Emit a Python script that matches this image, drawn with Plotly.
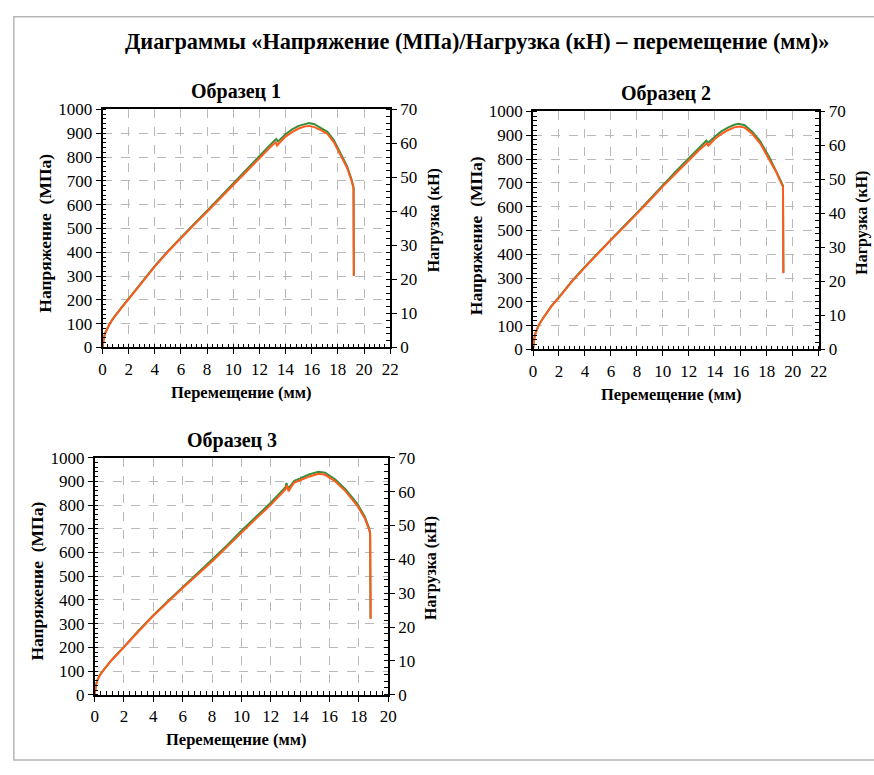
import plotly.graph_objects as go

# ---------------- data ----------------
# Sample 1 : orange = stress (MPa, left axis), green = load (kN, right axis)
s1_disp = [0, 0.04, 0.1, 0.2, 0.35, 0.55, 0.8, 1.1, 1.5, 2, 3, 4, 5, 6, 7, 8, 9, 10, 11, 12, 12.8,
           13.25, 13.35, 13.5, 14, 14.5, 15, 15.5, 15.8, 16.2, 16.7, 17.2, 17.7, 18.3, 18.7,
           19.05, 19.2, 19.22]
s1_stress = [0, 20, 40, 60, 80, 100, 120, 143, 170, 203, 272, 340, 402, 460, 515, 570, 627, 685,
             740, 795, 840, 862, 848, 858, 886, 905, 920, 929, 931, 926, 913, 897, 862, 800, 755,
             700, 668, 300]
s1_load_disp = [0, 0.04, 0.1, 0.2, 0.35, 0.55, 0.8, 1.1, 1.5, 2, 3, 4, 5, 6, 7, 8, 9, 10, 11, 12,
                12.8, 13.2, 13.3, 13.4, 13.55, 14, 14.5, 15, 15.5, 15.8, 16.2, 16.7, 17.2, 17.7,
                18.3, 18.7, 19.05, 19.2, 19.22]
s1_load = [0, 1.4, 2.8, 4.2, 5.6, 7.0, 8.47, 10.08, 12.04, 14.35, 19.25, 24.01, 28.35, 32.48,
           36.33, 40.25, 44.31, 48.44, 52.36, 56.28, 59.5, 61.04, 61.32, 60.62, 61.04, 62.72,
           64.12, 65.17, 65.8, 66.01, 65.66, 64.61, 63.42, 60.97, 56.56, 53.34, 49.42, 47.04, 21.14]

# Sample 2
s2_disp = [0, 0.04, 0.1, 0.2, 0.3, 0.45, 0.7, 1.0, 1.4, 2, 3, 4, 5, 6, 7, 8, 9, 10, 11, 12, 12.8,
           13.4, 13.5, 13.65, 14, 14.5, 15, 15.5, 15.9, 16.3, 16.9, 17.5, 18.2, 18.7, 19.1,
           19.25, 19.28]
s2_stress = [0, 25, 48, 70, 86, 103, 125, 150, 180, 218, 285, 345, 403, 460, 514, 569, 627, 685,
             740, 795, 838, 866, 856, 864, 884, 905, 921, 933, 937, 932, 905, 865, 800, 748, 700,
             683, 320]
s2_load_disp = [0, 0.04, 0.1, 0.2, 0.3, 0.45, 0.7, 1.0, 1.4, 2, 3, 4, 5, 6, 7, 8, 9, 10, 11, 12,
                12.8, 13.25, 13.35, 13.45, 13.6, 14, 14.5, 15, 15.5, 15.85, 16.3, 16.9, 17.5,
                18.2, 18.7, 19.1, 19.25, 19.28]
s2_load = [0, 1.75, 3.36, 4.9, 6.02, 7.21, 8.82, 10.57, 12.74, 15.4, 20.16, 24.36, 28.42, 32.48,
           36.26, 40.18, 44.31, 48.44, 52.36, 56.28, 59.36, 61.11, 61.39, 60.76, 61.18, 62.58,
           64.12, 65.24, 66.08, 66.36, 65.94, 63.98, 61.18, 56.56, 52.85, 49.42, 48.16, 22.54]

# Sample 3
s3_disp = [0, 0.04, 0.1, 0.2, 0.35, 0.55, 0.8, 1.1, 1.5, 2, 3, 4, 5, 6, 7, 8, 9, 10, 11, 12, 12.5,
           13.0, 13.1, 13.22, 13.4, 13.6, 14, 14.6, 15.25, 15.7, 16.4, 17.1, 17.9, 18.4, 18.7,
           18.77, 18.8]
s3_stress = [0, 22, 43, 63, 82, 100, 120, 142, 168, 200, 268, 333, 393, 450, 506, 562, 623, 685,
             743, 801, 833, 866, 884, 858, 878, 895, 905, 920, 932, 928, 900, 858, 797, 745, 697,
             678, 320]
s3_load_disp = [0, 0.04, 0.1, 0.2, 0.35, 0.55, 0.8, 1.1, 1.5, 2, 3, 4, 5, 6, 7, 8, 9, 10, 11, 12,
                12.5, 13.0, 13.07, 13.18, 13.4, 13.6, 14, 14.6, 15.25, 15.7, 16.4, 17.1, 17.9,
                18.4, 18.7, 18.77, 18.8]
s3_load = [0, 1.54, 3.01, 4.41, 5.74, 7.0, 8.47, 10.01, 11.9, 14.14, 18.97, 23.52, 27.72, 31.78,
           35.7, 39.69, 44.03, 48.44, 52.5, 56.7, 59.01, 61.32, 62.51, 60.9, 62.09, 63.21, 63.91,
           65.03, 65.87, 65.59, 63.56, 60.62, 56.35, 52.64, 49.14, 47.74, 22.54]

x_ranges = [[0, 22], [0, 22], [0, 20]]
stress_range = [0, 1000]
load_range = [0, 70]

main_title = "Диаграммы «Напряжение (МПа)/Нагрузка (кН) – перемещение (мм)»"
sample_titles = ["Образец 1", "Образец 2", "Образец 3"]
x_title = "Перемещение (мм)"
y_title = "Напряжение  (МПа)"
y2_title = "Нагрузка (кН)"

# ---------------- layout helpers ----------------
W, H = 874, 775


def fx(p):
    return p / W


def fy(p):
    return 1 - p / H


FONT = "Times New Roman, Liberation Serif, DejaVu Serif, serif"
ORANGE = "#ff5b1c"
GREEN = "#3b8d3b"
GRID = "#b9b9b9"

# plot areas in window pixels: (left, right, top, bottom)
boxes = [(100, 392, 103, 347), (537, 827, 105, 349), (92, 390, 460, 703)]

samples = [
    (s1_disp, s1_stress, s1_load_disp, s1_load),
    (s2_disp, s2_stress, s2_load_disp, s2_load),
    (s3_disp, s3_stress, s3_load_disp, s3_load),
]

fig = go.Figure()
layout = dict(
    width=W, height=H, autosize=False,
    margin=dict(l=0, r=0, t=0, b=0),
    paper_bgcolor="white", plot_bgcolor="white",
    showlegend=False,
    font=dict(family=FONT, size=17, color="black"),
)

annotations = []
TICKFONT = dict(family=FONT, size=17, color="black")

for i, ((xd, st, xl, ld), box) in enumerate(zip(samples, boxes)):
    L, R, T, B = box
    xn = "" if i == 0 else str(i + 1)
    yk = "" if i == 0 else str(2 * i + 1)   # base axis: load (kN), right side
    ys = str(2 * i + 2)                     # overlay axis: stress (MPa), left side

    fig.add_trace(go.Scatter(x=xl, y=ld, mode="lines", line=dict(color=GREEN, width=2),
                             xaxis="x" + xn, yaxis="y" + yk))
    fig.add_trace(go.Scatter(x=xd, y=st, mode="lines", line=dict(color=ORANGE, width=2),
                             xaxis="x" + xn, yaxis="y" + ys))

    layout["xaxis" + xn] = dict(
        domain=[fx(L), fx(R)], range=x_ranges[i], anchor="y" + yk,
        dtick=2, tick0=0, showgrid=True, gridcolor=GRID, griddash="dash", gridwidth=1,
        showline=True, linecolor="black", linewidth=1.5, mirror=True,
        ticks="outside", ticklen=5, tickwidth=1.3, tickcolor="black",
        minor=dict(dtick=0.4, ticks="inside", ticklen=4, tickwidth=1, tickcolor="black", showgrid=False),
        tickfont=TICKFONT, zeroline=False,
    )
    layout["yaxis" + yk] = dict(
        domain=[fy(B), fy(T)], side="right", range=load_range, anchor="x" + xn,
        dtick=10, tick0=0, showgrid=False,
        showline=True, linecolor="black", linewidth=1.5,
        ticks="outside", ticklen=5, tickwidth=1.3, tickcolor="black",
        minor=dict(dtick=2, ticks="inside", ticklen=4, tickwidth=1, tickcolor="black", showgrid=False),
        tickfont=TICKFONT, zeroline=False,
    )
    layout["yaxis" + ys] = dict(
        overlaying="y" + yk, side="left", range=stress_range, anchor="x" + xn,
        dtick=100, tick0=0, showgrid=True, gridcolor=GRID, griddash="dash", gridwidth=1,
        showline=True, linecolor="black", linewidth=1.5,
        ticks="outside", ticklen=5, tickwidth=1.3, tickcolor="black",
        minor=dict(dtick=20, ticks="inside", ticklen=4, tickwidth=1, tickcolor="black", showgrid=False),
        tickfont=TICKFONT, zeroline=False,
    )

    cx = (L + R) / 2
    cy = (T + B) / 2
    common = dict(xref="paper", yref="paper", showarrow=False, xanchor="center", yanchor="middle")
    annotations.append(dict(text="<b>" + sample_titles[i] + "</b>", x=fx(cx - 10), y=fy(T - 18),
                            font=dict(family=FONT, size=20), **common))
    annotations.append(dict(text="<b>" + x_title + "</b>", x=fx(cx - 5), y=fy(B + 46),
                            font=dict(family=FONT, size=16.5), **common))
    annotations.append(dict(text="<b>" + y_title + "</b>", x=fx(L - 58), y=fy(cy + 5),
                            textangle=-90, font=dict(family=FONT, size=17.5), **common))
    annotations.append(dict(text="<b>" + y2_title + "</b>", x=fx(R + 44), y=fy(cy - 8),
                            textangle=-90, font=dict(family=FONT, size=16), **common))

annotations.append(dict(text="<b>" + main_title + "</b>", x=fx(480), y=fy(33),
                        xref="paper", yref="paper", showarrow=False,
                        xanchor="center", yanchor="middle",
                        font=dict(family=FONT, size=22.3)))

layout["annotations"] = annotations
layout["shapes"] = [dict(type="rect", xref="paper", yref="paper",
                         x0=fx(10), x1=fx(900), y0=fy(770), y1=fy(8),
                         line=dict(color="#b5b5b5", width=1.5))]

fig.update_layout(**layout)
fig.write_html("out.html", config={"displayModeBar": False},
               post_script="document.body.style.margin='0';document.body.style.overflow='hidden';")
